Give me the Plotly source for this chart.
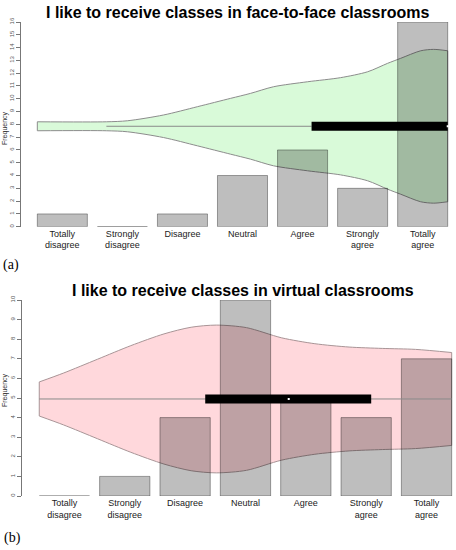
import plotly.graph_objects as go

# datos
categorias = ['Totally<br>disagree', 'Strongly<br>disagree', 'Disagree', 'Neutral',
              'Agree', 'Strongly<br>agree', 'Totally<br>agree']
presencial = [1, 0, 1, 4, 6, 3, 16]
virtual = [0, 1, 4, 10, 5, 4, 7]

# violin (a) - horizontal, sobre el eje de las barras
viol_a_x = [0.2, 1.58, 2.0, 2.72, 3.4, 4.06, 4.46, 4.92, 5.6, 6.26, 6.8, 7.2, 7.46, 7.86, 8.12, 8.4]
viol_a_w = [0.35, 0.35, 0.43, 0.88, 1.53, 2.18, 2.57, 3.09, 3.48, 3.8, 4.26, 4.92, 5.31, 5.9, 6.01, 5.9]
viol_a_centro = 7.85
caja_a = [5.68, 8.4]
bigote_a = [1.58, 5.68]
mediana_a = 8.4

# violin (b)
viol_b_x = [0.2, 0.68, 1.36, 2.02, 2.68, 3.22, 3.72, 4.32, 5.02, 5.68, 6.36, 7.02, 7.68, 8.4]
viol_b_w = [0.87, 1.32, 2.03, 2.72, 3.32, 3.66, 3.77, 3.64, 3.12, 2.82, 2.65, 2.58, 2.53, 2.37]
viol_b_centro = 4.95
caja_b = [3.5, 6.8]
bigote_b = [0.2, 8.4]
mediana_b = 5.16

# posiciones de barplot de R (ancho 1, espacio 0.2)
centros = [0.7 + 1.2 * i for i in range(len(categorias))]

W, H = 456, 550
fig = go.Figure()


def agregar_panel(fig, valores, vx, vw, centro, caja, bigote, mediana,
                  relleno, borde, ejes_base, ejes_sobre):
    xb, yb = ejes_base
    xs, ys = ejes_sobre
    inferior = [centro - w for w in vw]
    superior = [centro + w for w in vw]
    # relleno del violin (debajo de las barras)
    fig.add_trace(go.Scatter(x=vx, y=inferior, mode='lines', xaxis=xb, yaxis=yb,
                             line=dict(color=borde, width=1, shape='spline', smoothing=0.8),
                             hoverinfo='skip', showlegend=False))
    fig.add_trace(go.Scatter(x=vx, y=superior, mode='lines', xaxis=xb, yaxis=yb,
                             fill='tonexty', fillcolor=relleno,
                             line=dict(color=borde, width=1, shape='spline', smoothing=0.8),
                             hoverinfo='skip', showlegend=False))
    fig.add_trace(go.Scatter(x=[vx[0], vx[0], None, vx[-1], vx[-1]],
                             y=[inferior[0], superior[0], None, inferior[-1], superior[-1]],
                             mode='lines', xaxis=xb, yaxis=yb,
                             line=dict(color=borde, width=1), hoverinfo='skip', showlegend=False))
    # barras semitransparentes encima
    fig.add_trace(go.Bar(x=centros, y=valores, width=1, xaxis=xs, yaxis=ys,
                         marker=dict(color='rgba(0,0,0,0.255)',
                                     line=dict(color='rgba(0,0,0,0.35)', width=1)),
                         showlegend=False))
    # bigote, caja y mediana
    fig.add_trace(go.Scatter(x=bigote, y=[centro, centro], mode='lines', xaxis=xs, yaxis=ys,
                             line=dict(color='#8a8a8a', width=1), showlegend=False))
    fig.add_trace(go.Scatter(x=caja, y=[centro, centro], mode='lines', xaxis=xs, yaxis=ys,
                             line=dict(color='black', width=9), showlegend=False))
    fig.add_trace(go.Scatter(x=[mediana], y=[centro], mode='markers', xaxis=xs, yaxis=ys,
                             marker=dict(color='white', size=2, symbol='square'), showlegend=False))


agregar_panel(fig, presencial, viol_a_x, viol_a_w, viol_a_centro, caja_a, bigote_a, mediana_a,
              '#d9fad9', '#8c8c8c', ('x', 'y'), ('x3', 'y3'))
agregar_panel(fig, virtual, viol_b_x, viol_b_w, viol_b_centro, caja_b, bigote_b, mediana_b,
              '#ffd8dc', '#a89496', ('x2', 'y2'), ('x4', 'y4'))

eje_x = dict(tickvals=centros, ticktext=categorias, ticks='', showline=False, zeroline=False,
             showgrid=False, automargin=False,
             tickfont=dict(family='Liberation Sans, Arial', size=9, color='#222'))
eje_y = dict(showline=True, linecolor='#777', linewidth=1, ticks='outside', ticklen=4,
             tickcolor='#777', tickangle=-90, zeroline=False, showgrid=False, automargin=False,
             tickfont=dict(family='Liberation Sans, Arial', size=6, color='#555'))
oculto = dict(visible=False, showgrid=False, zeroline=False, automargin=False)

rx_a = [-0.126, 8.45]
rx_b = [-0.143, 8.48]
fig.update_layout(
    width=W, height=H, autosize=False,
    margin=dict(l=0, r=0, t=0, b=0, autoexpand=False),
    paper_bgcolor='white', plot_bgcolor='white',
    barmode='overlay',
    xaxis=dict(eje_x, domain=[21 / W, 450.2 / W], range=rx_a, anchor='y'),
    yaxis=dict(eje_y, domain=[(H - 226.7) / H, (H - 22) / H], range=[0, 16],
               tickvals=list(range(17)), anchor='x'),
    xaxis2=dict(eje_x, domain=[22 / W, 455.7 / W], range=rx_b, anchor='y2'),
    yaxis2=dict(eje_y, domain=[54 / H, 250 / H], range=[0, 10],
                tickvals=list(range(11)), anchor='x2'),
    xaxis3=dict(oculto, overlaying='x', range=rx_a, anchor='y3'),
    yaxis3=dict(oculto, overlaying='y', range=[0, 16], anchor='x3'),
    xaxis4=dict(oculto, overlaying='x2', range=rx_b, anchor='y4'),
    yaxis4=dict(oculto, overlaying='y2', range=[0, 10], anchor='x4'),
    annotations=[
        dict(text='<b>I like to receive classes in face-to-face classrooms</b>', x=237 / W, y=1 - 12 / H,
             xref='paper', yref='paper', showarrow=False, xanchor='center', yanchor='middle',
             font=dict(family='Liberation Sans, Arial', size=16, color='black')),
        dict(text='<b>I like to receive classes in virtual classrooms</b>', x=243.5 / W, y=1 - 290 / H,
             xref='paper', yref='paper', showarrow=False, xanchor='center', yanchor='middle',
             font=dict(family='Liberation Sans, Arial', size=16, color='black')),
        dict(text='(a)', x=1 / W, y=1 - 265 / H, xref='paper', yref='paper', showarrow=False,
             xanchor='left', yanchor='middle',
             font=dict(family='Liberation Serif, Times New Roman', size=14, color='black')),
        dict(text='(b)', x=2 / W, y=1 - 538 / H, xref='paper', yref='paper', showarrow=False,
             xanchor='left', yanchor='middle',
             font=dict(family='Liberation Serif, Times New Roman', size=14, color='black')),
        dict(text='Frequency', x=5 / W, y=1 - 128 / H, xref='paper', yref='paper', showarrow=False,
             textangle=-90, xanchor='center', yanchor='middle',
             font=dict(family='Liberation Sans, Arial', size=7, color='#333')),
        dict(text='Frequency', x=5 / W, y=1 - 390 / H, xref='paper', yref='paper', showarrow=False,
             textangle=-90, xanchor='center', yanchor='middle',
             font=dict(family='Liberation Sans, Arial', size=7, color='#333')),
    ],
)

# quitar el margen por defecto del body y la barra de herramientas
fig.write_html("out.html", config={'displayModeBar': False},
               post_script="document.body.style.margin='0';")
